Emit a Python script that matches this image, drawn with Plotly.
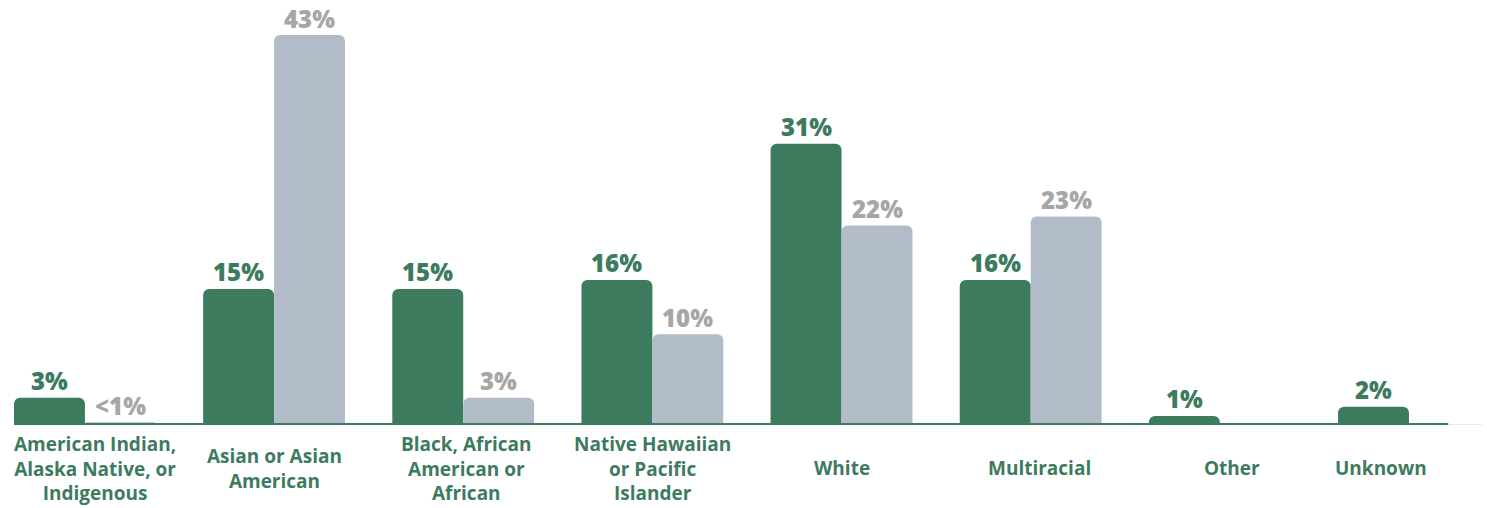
import plotly.graph_objects as go

categories = [
    "American Indian,<br>Alaska Native, or<br>Indigenous",
    "Asian or Asian<br>American",
    "Black, African<br>American or<br>African",
    "Native Hawaiian<br>or Pacific<br>Islander",
    "White",
    "Multiracial",
    "Other",
    "Unknown",
]
green_values = [3, 15, 15, 16, 31, 16, 1, 2]
green_labels = ["3%", "15%", "15%", "16%", "31%", "16%", "1%", "2%"]
gray_values = [0.3, 43, 3, 10, 22, 23, None, None]
gray_labels = ["<1%", "43%", "3%", "10%", "22%", "23%", "", ""]

GREEN = "#3D7B5E"
GRAY_BAR = "#B2BCC8"
GRAY_TEXT = "#A6A6A6"
FONT = "Open Sans"

x = list(range(len(categories)))
label_shift = [10, 0, 3, 0, 0, 9, 12, -28]
half = 0.1875  # half of one bar slot in a group (bargap 0.25, two bars)

fig = go.Figure()
fig.add_trace(go.Bar(
    x=x, y=green_values,
    marker=dict(color=GREEN, line=dict(width=0)),
    hoverinfo="skip",
))
fig.add_trace(go.Bar(
    x=x, y=gray_values,
    marker=dict(color=GRAY_BAR, line=dict(width=0)),
    hoverinfo="skip",
))

annotations = []
for i, cat in enumerate(categories):
    annotations.append(dict(
        x=i, y=-0.1012, xref="x", yref="paper", text=cat, showarrow=False,
        xanchor="center", yanchor="middle", xshift=label_shift[i],
        font=dict(family=FONT, size=19, color=GREEN, weight=700),
        align="center",
    ))
for i, (v, t) in enumerate(zip(green_values, green_labels)):
    annotations.append(dict(
        x=i - half, y=v, xref="x", yref="y", text=t, showarrow=False,
        xanchor="center", yanchor="middle", yshift=17,
        font=dict(family=FONT, size=24, color=GREEN, weight=800),
    ))
for i, (v, t) in enumerate(zip(gray_values, gray_labels)):
    if v is None or not t:
        continue
    annotations.append(dict(
        x=i + half, y=v, xref="x", yref="y", text=t, showarrow=False,
        xanchor="center", yanchor="middle", yshift=17,
        font=dict(family=FONT, size=24, color=GRAY_TEXT, weight=800),
    ))

fig.update_layout(
    width=1487, height=508,
    margin=dict(l=14, r=5, t=0, b=83),
    paper_bgcolor="white", plot_bgcolor="white",
    barmode="group", bargap=0.25, bargroupgap=0,
    barcornerradius=6,
    showlegend=False,
    xaxis=dict(range=[-0.375, 7.386], showticklabels=False, showgrid=False,
               zeroline=False, showline=False, fixedrange=True),
    yaxis=dict(range=[0, 46.86], showticklabels=False, showgrid=False,
               zeroline=False, showline=False, fixedrange=True),
    annotations=annotations,
    shapes=[
        dict(type="line", xref="paper", yref="y", x0=0, x1=1, y0=0, y1=0,
             line=dict(color="#D3D8DE", width=1), layer="above"),
        dict(type="line", xref="paper", yref="y", x0=0, x1=0.977, y0=0, y1=0,
             line=dict(color=GREEN, width=4), layer="above"),
    ],
)

fig.write_html(
    "out.html",
    config={"displayModeBar": False},
    post_script="document.body.style.margin='0';document.body.style.overflow='hidden';",
)
